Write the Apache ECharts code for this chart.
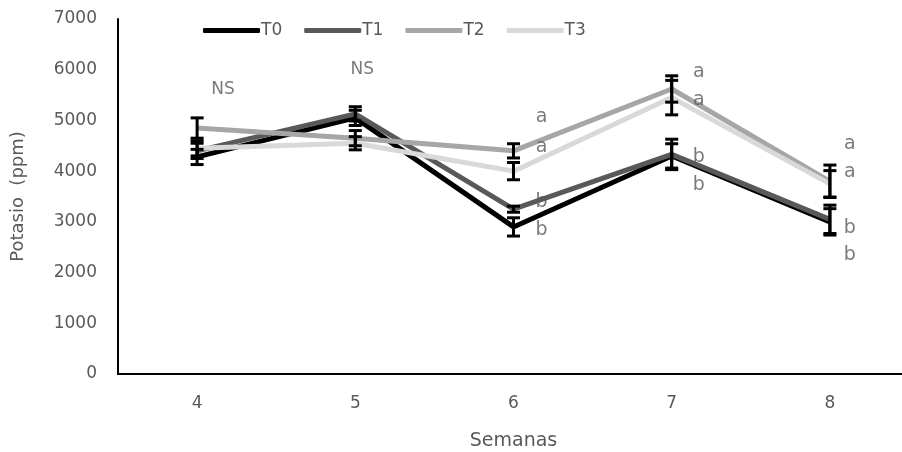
<!DOCTYPE html>
<html><head><meta charset="utf-8">
<script src="https://cdn.jsdelivr.net/npm/echarts@6/dist/echarts.min.js"></script>
<style>html,body{margin:0;padding:0;background:#fff}#c{width:902px;height:452px}</style>
</head><body><div id="c"></div>
<script>
const weeks = ['4','5','6','7','8'];
const T0 = [4280, 5050, 2900, 4300, 3000];
const T1 = [4400, 5130, 3250, 4330, 3050];
const T2 = [4850, 4650, 4400, 5620, 3800];
const T3 = [4450, 4550, 4000, 5450, 3750];
const errT0 = [150, 150, 180, 240, 260];
const errT1 = [150, 140, 60, 300, 280];
const errT2 = [200, 150, 140, 260, 320];
const errT3 = [150, 130, 170, 340, 260];
const yTicks = [0,1000,2000,3000,4000,5000,6000,7000];
// annotations: [week index, value, text]
const notes = [
  [0, 5600, 'NS'], [1, 6000, 'NS'],
  [2, 5070, 'a'], [2, 4480, 'a'], [2, 3390, 'b'], [2, 2840, 'b'],
  [3, 5960, 'a'], [3, 5400, 'a'], [3, 4280, 'b'], [3, 3730, 'b'],
  [4, 4540, 'a'], [4, 3980, 'a'], [4, 2880, 'b'], [4, 2350, 'b']
];
const names = ['T0','T1','T2','T3'];
const vals = [T0,T1,T2,T3];
const errs = [errT0,errT1,errT2,errT3];
const colors = ['#000000','#595959','#a6a6a6','#d9d9d9'];
const txt = '#595959';
const font = '"DejaVu Sans", "Open Sans", sans-serif';
const noteDx = [26, 7, 28, 28, 28, 28, 27, 27, 27, 27, 20, 20, 20, 20];

const series = [];
names.forEach((n,i)=>{
  series.push({
    name:n, type:'line', data:vals[i], symbol:'none',
    lineStyle:{color:colors[i], width:5}, itemStyle:{color:colors[i]}, z:3
  });
});
names.forEach((n,i)=>{
  series.push({
    type:'custom', z:10, silent:true,
    data: vals[i].map((v,k)=>[k, v-errs[i][k], v+errs[i][k]]),
    renderItem:(params, api)=>{
      const lo = api.coord([api.value(0), api.value(1)]);
      const hi = api.coord([api.value(0), api.value(2)]);
      const w = 6.5;
      const st = {stroke:'#000', lineWidth:3};
      return {type:'group', children:[
        {type:'line', shape:{x1:lo[0],y1:lo[1],x2:hi[0],y2:hi[1]}, style:st},
        {type:'line', shape:{x1:lo[0]-w,y1:lo[1],x2:lo[0]+w,y2:lo[1]}, style:st},
        {type:'line', shape:{x1:hi[0]-w,y1:hi[1],x2:hi[0]+w,y2:hi[1]}, style:st}
      ]};
    }
  });
});
series.push({
  type:'scatter', symbol:'circle', symbolSize:2, z:20, silent:true,
  itemStyle:{color:'rgba(0,0,0,0)'},
  data: notes.map((a,idx)=>({value:[a[0],a[1]],
    label:{formatter:a[2], offset:[noteDx[idx],0], fontSize: a[2]==='NS' ? 17 : 19}})),
  label:{show:true, position:'inside', color:txt, fontFamily:font},
  emphasis:{disabled:true}
});

const chart = echarts.init(document.getElementById('c'));
chart.setOption({
  animation:false,
  textStyle:{fontFamily:font},
  legend:{
    data:names, top:17, left:198, itemWidth:57, itemHeight:5, itemGap:22,
    icon:'roundRect',
    textStyle:{color:txt, fontSize:17, fontFamily:font, padding:[0,0,0,-4]}
  },
  grid:{left:118, width:791, top:19, height:355, containLabel:false, outerBoundsMode:'none'},
  xAxis:{
    type:'category', data:weeks, boundaryGap:true,
    name:'Semanas', nameLocation:'middle', nameGap:58,
    nameTextStyle:{color:txt, fontSize:19, fontFamily:font},
    axisLine:{lineStyle:{color:'#000', width:2}},
    axisTick:{show:false},
    axisLabel:{color:txt, fontSize:17, margin:21, fontFamily:font}
  },
  yAxis:{
    type:'value', min:yTicks[0], max:yTicks[yTicks.length-1], interval:1000,
    name:'Potasio  (ppm)', nameLocation:'middle', nameGap:91,
    nameTextStyle:{color:txt, fontSize:18, fontFamily:font},
    axisLine:{show:true, lineStyle:{color:'#000', width:2}},
    axisTick:{show:false}, splitLine:{show:false},
    axisLabel:{color:txt, fontSize:17, margin:21, fontFamily:font,
      formatter:v=>String(v)}
  },
  series:series
});
</script></body></html>
